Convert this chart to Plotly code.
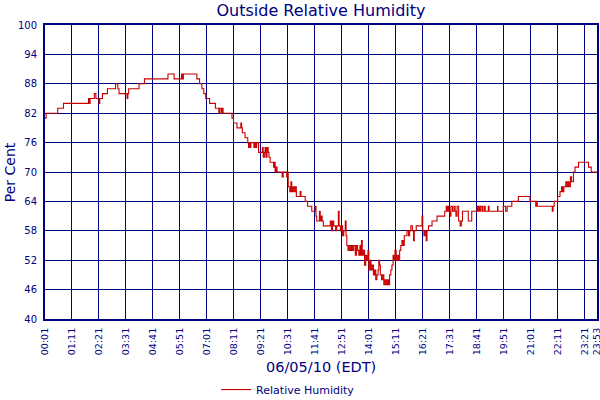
import pandas as pd
import plotly.graph_objects as go

# minutes after midnight (06/05/10) and relative humidity in %
minutes = [
    1, 4, 34, 49, 114, 116, 118, 129, 133, 141, 143, 150, 163, 184, 190, 193,
    214, 216, 218, 245, 259, 320, 336, 355, 357, 360, 395, 402, 408, 413, 418,
    428, 443, 452, 454, 458, 460, 463, 486, 490, 499, 509, 511, 513, 520, 527,
    529, 531, 533, 535, 540, 543, 545, 548, 550, 555, 562, 565, 567, 570, 572,
    574, 577, 580, 582, 585, 590, 594, 596, 598, 600, 603, 612, 616, 619, 625,
    628, 631, 632, 636, 639, 641, 644, 647, 650, 653, 660, 663, 665, 672, 676,
    682, 689, 693, 700, 702, 704, 706, 710, 713, 715, 718, 720, 723, 735, 741,
    744, 747, 750, 755, 758, 762, 764, 767, 770, 773, 776, 778, 780, 782, 784,
    787, 790, 793, 796, 799, 802, 806, 809, 812, 815, 818, 820, 822, 824, 827,
    830, 833, 836, 839, 841, 844, 847, 850, 853, 856, 859, 862, 865, 867, 869,
    871, 874, 877, 880, 883, 886, 889, 892, 895, 898, 901, 904, 906, 909, 912,
    915, 918, 921, 924, 927, 930, 933, 936, 940, 944, 947, 950, 954, 957, 959,
    964, 978, 979, 981, 984, 987, 990, 992, 996, 1000, 1005, 1012, 1018, 1030,
    1038, 1042, 1044, 1046, 1048, 1052, 1054, 1058, 1062, 1065, 1067, 1070,
    1074, 1078, 1081, 1084, 1096, 1099, 1104, 1108, 1113, 1117, 1122, 1124,
    1127, 1129, 1132, 1136, 1140, 1143, 1148, 1151, 1153, 1160, 1175, 1176,
    1190, 1196, 1200, 1212, 1229, 1259, 1274, 1276, 1278, 1317, 1319, 1322,
    1331, 1337, 1341, 1344, 1347, 1352, 1355, 1358, 1361, 1364, 1367, 1372,
    1376, 1385, 1411, 1418, 1433,
]
humidity = [
    81, 82, 83, 84, 85, 84, 85, 86, 85, 84, 85, 86, 87, 88, 87, 86,
    85, 86, 87, 88, 89, 90, 89, 90, 89, 90, 89, 88, 87, 86, 85,
    84, 83, 82, 83, 82, 83, 82, 81, 80, 79, 80, 79, 78, 77, 76,
    75, 76, 75, 76, 76, 75, 76, 75, 76, 74, 74, 75, 73, 74, 75,
    73, 75, 74, 73, 72, 72, 71, 72, 70, 71, 70, 70, 69, 70, 70,
    69, 70, 67, 66, 68, 66, 67, 66, 67, 65, 65, 66, 65, 65, 64,
    63, 63, 62, 62, 63, 61, 60, 60, 62, 60, 61, 60, 59, 59, 60,
    58, 60, 59, 58, 59, 62, 59, 58, 59, 57, 58, 58, 60, 57, 55,
    54, 55, 54, 55, 54, 55, 53, 55, 54, 53, 55, 53, 56, 53, 54,
    51, 53, 52, 54, 50, 52, 50, 51, 49, 50, 48, 49, 50, 52, 51,
    49, 48, 49, 47, 48, 47, 48, 47, 49, 50, 51, 53, 52, 54, 52,
    53, 52, 54, 55, 56, 55, 57, 57, 58, 57, 58, 59, 58, 56, 58,
    59, 59, 61, 58, 57, 58, 56, 58, 59, 59, 60, 60, 61, 61,
    62, 63, 62, 63, 62, 61, 63, 62, 63, 62, 61, 63,
    60, 59, 60, 62, 62, 60, 60, 62, 62, 62, 63, 62,
    63, 62, 63, 62, 63, 62, 62, 63, 62, 62, 63, 62,
    63, 62, 63, 64, 65, 64, 63, 64, 63, 62, 63, 64,
    65, 66, 67, 66, 67, 68, 67, 68, 67, 69, 68, 70,
    71, 72, 71, 70, 70,
]

tick_labels = [
    "00:01", "01:11", "02:21", "03:31", "04:41", "05:51", "07:01", "08:11",
    "09:21", "10:31", "11:41", "12:51", "14:01", "15:11", "16:21", "17:31",
    "18:41", "19:51", "21:01", "22:11", "23:21", "23:53",
]
y_ticks = [40, 46, 52, 58, 64, 70, 76, 82, 88, 94, 100]

navy = "#000080"
fecha = "2010-06-05"

x = pd.Timestamp(fecha) + pd.to_timedelta(minutes, unit="min")
tick_vals = [pd.Timestamp(fecha + " " + t) for t in tick_labels]

fig = go.Figure()

fig.add_trace(go.Scatter(
    x=x, y=humidity, mode="lines", name="Relative Humidity",
    line=dict(color="#C80000", width=1.1, shape="hv"),
))

fig.update_layout(
    width=600, height=400,
    paper_bgcolor="white", plot_bgcolor="white",
    margin=dict(l=45, r=3, t=25, b=81, autoexpand=False),
    font=dict(family="DejaVu Sans", color=navy),
    title=dict(text="Outside Relative Humidity", x=0.535, xanchor="center",
               y=0.975, yanchor="middle", font=dict(size=16, color=navy)),
    showlegend=True,
    legend=dict(orientation="h", x=0.31, xanchor="left", y=-0.24, yanchor="middle",
                font=dict(size=11, color=navy), bgcolor="rgba(0,0,0,0)", itemwidth=30),
    xaxis=dict(
        range=[tick_vals[0], tick_vals[-1]], automargin=False,
        tickvals=tick_vals, ticktext=tick_labels, tickangle=-90,
        tickfont=dict(size=9.5, color=navy), ticklabeloverflow="allow",
        ticks="outside", ticklen=3, tickcolor="rgba(0,0,0,0)",
        showgrid=True, gridcolor=navy, gridwidth=1,
        showline=True, linecolor=navy, linewidth=2, mirror=True,
        zeroline=False,
    ),
    yaxis=dict(
        range=[40, 100], tickvals=y_ticks, automargin=False,
        tickfont=dict(size=10, color=navy),
        ticks="outside", ticklen=4, tickcolor="rgba(0,0,0,0)",
        showgrid=True, gridcolor=navy, gridwidth=1,
        showline=True, linecolor=navy, linewidth=2, mirror=True,
        zeroline=False,
    ),
    annotations=[
        dict(text="Per Cent", xref="paper", yref="paper", x=-0.063, y=0.5,
             xanchor="center", yanchor="middle", textangle=-90, showarrow=False,
             font=dict(size=14, color=navy)),
        dict(text="06/05/10 (EDT)", xref="paper", yref="paper", x=0.5, y=-0.163,
             xanchor="center", yanchor="middle", showarrow=False,
             font=dict(size=14.5, color=navy)),
    ],
)

# quitar el margen por defecto del body para que la figura ocupe la ventana
fig.write_html("out.html", config={"displayModeBar": False},
               post_script="document.body.style.margin='0';")
